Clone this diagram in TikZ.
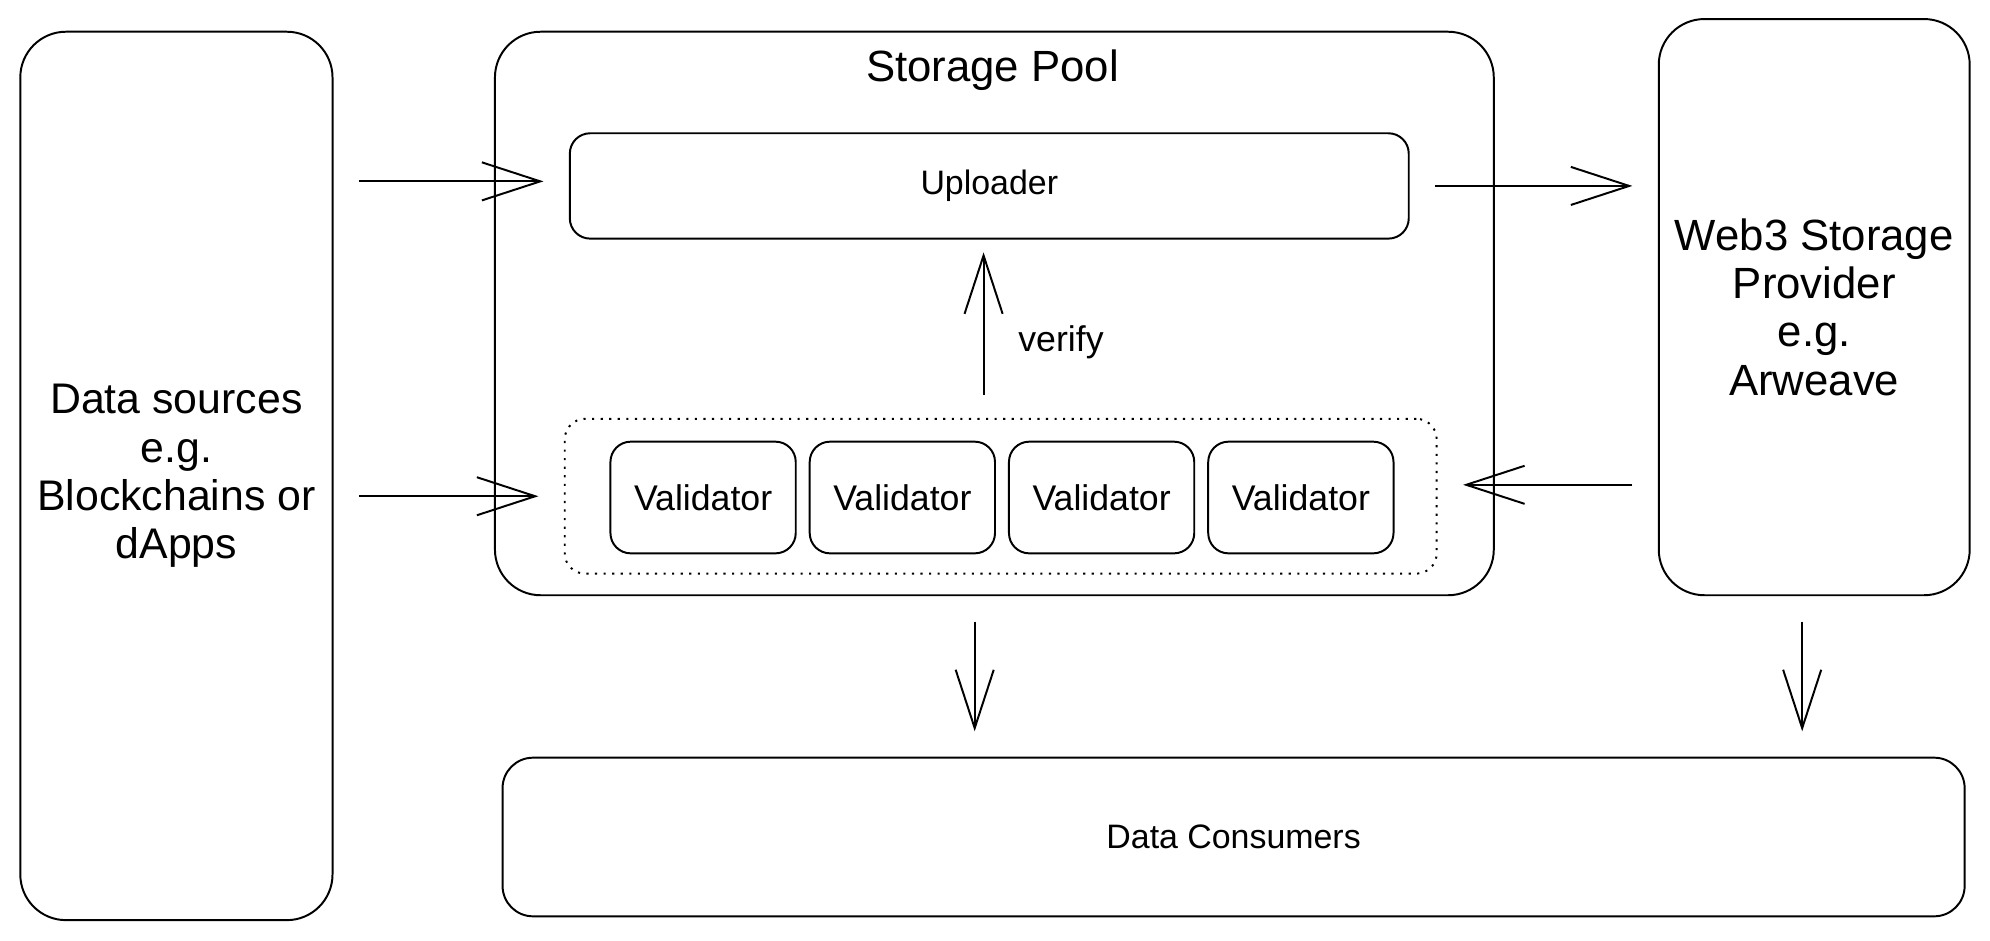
\documentclass[tikz,border=0pt]{standalone}
\usepackage{fontspec}
\setmainfont{Liberation Sans}
\usetikzlibrary{arrows.meta}

\begin{document}
\begin{tikzpicture}[x=0.25mm,y=-0.25mm,line width=1.1pt,
	every node/.style={draw,rounded corners=4mm,align=center,font=\fontsize{19}{23}\selectfont},
	bigbox/.style={rounded corners=9mm,font=\fontsize{24.5}{27}\selectfont},
	valbox/.style={minimum width=36.5mm,minimum height=22mm,font=\fontsize{20}{24}\selectfont},
	txt/.style={draw=none},
	arr/.style={-{Straight Barb[length=11.5mm,width=7.5mm]},shorten <=5mm,shorten >=5mm}]
		\useasboundingbox (0,0) rectangle (1568,741);

		\node[bigbox,minimum width=61.5mm,minimum height=175mm,font=\fontsize{24}{27}\selectfont] (ds) at (139,375) {Data sources\\e.g.\\Blockchains or\\dApps};
		\node[bigbox,minimum width=196.75mm,minimum height=111mm] (pool) at (783.5,247) {};
		\node[txt,bigbox] (title) at (782,55) {Storage Pool};
		\node[minimum width=165.25mm,minimum height=20.75mm] (up) at (779.5,146.5) {Uploader};
		\node[dash pattern=on 1.2pt off 3.6pt,minimum width=171.75mm,minimum height=30.5mm] (grp) at (788.5,391) {};
		\foreach \i/\x in {1/554,2/711,3/868,4/1025}
			\node[valbox] (v\i) at (\x,392) {Validator};
		\node[bigbox,minimum width=61.25mm,minimum height=113.5mm] (web3) at (1429.5,242) {Web3 Storage\\Provider\\e.g.\\Arweave};
		\node[rounded corners=6mm,minimum width=288mm,minimum height=31.25mm] (cons) at (972,659.5) {Data Consumers};

		\coordinate (ul) at ([yshift=0.9mm]up.west);
		\coordinate (pl) at ([xshift=-3.875mm]pool.south);
		\coordinate (wb) at ([xshift=-2.375mm]web3.south);
		\coordinate (gr) at ([yshift=2.25mm]grp.east);
		\coordinate (vf) at ([xshift=-3.375mm]grp.north);

		\foreach \from/\to in {ds.east |- ul/ul,ds.east |- grp.west/grp.west,up.east/web3.west |- up.east,web3.west |- gr/gr,pl/pl |- cons.north,wb/wb |- cons.north}
			\draw[arr] (\from) -- (\to);
		\draw[arr,shorten <=4.5mm,shorten >=2.5mm] (vf) -- (vf |- up.south);
		\node[txt,font=\fontsize{20}{24}\selectfont] (vlab) at (836,270) {verify};
	\end{tikzpicture}
\end{document}
